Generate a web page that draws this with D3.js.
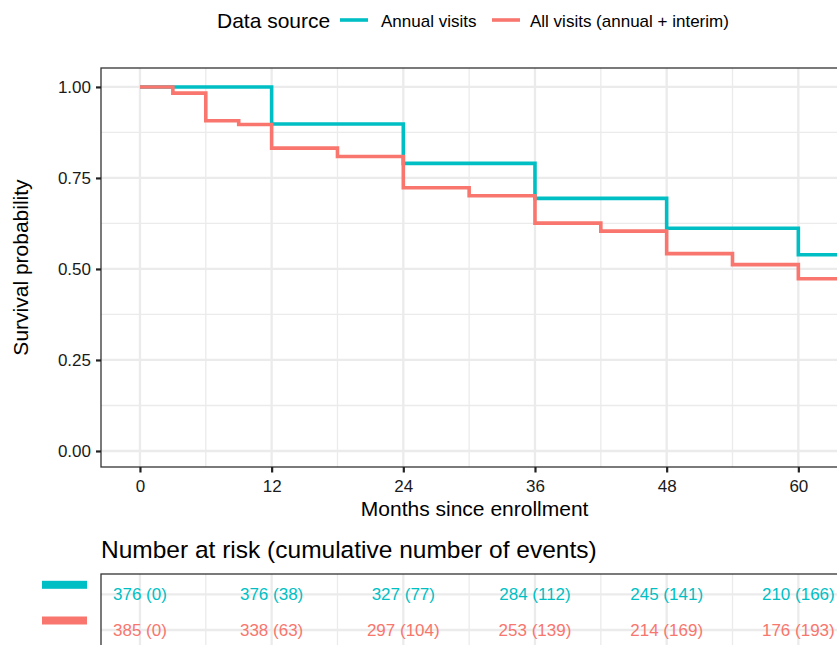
<!DOCTYPE html>
<html>
<head>
<meta charset="utf-8">
<script src="https://cdn.jsdelivr.net/npm/d3@7"></script>
<style>
  html, body { margin: 0; padding: 0; background: #fff; }
  svg { display: block; font-family: "Liberation Sans", Arial, Helvetica, sans-serif; }
</style>
</head>
<body>
<svg id="chart" width="837" height="645"></svg>
<script>
// ---------------- data ----------------
const seriesNames = ["Annual visits", "All visits (annual + interim)"];
const seriesColors = ["#00BFC4", "#F8766D"];

const annualTimes = [0, 12, 24, 36, 48, 60];
const annualSurv  = [1.0, 0.898, 0.790, 0.694, 0.612, 0.539];

const allTimes = [0, 3, 6, 9, 12, 18, 24, 30, 36, 42, 48, 54, 60];
const allSurv  = [1.0, 0.983, 0.907, 0.897, 0.832, 0.809, 0.723, 0.701, 0.626, 0.604, 0.542, 0.512, 0.473];

const followUpEnd = 70;

const xTicks = [0, 12, 24, 36, 48, 60, 72];
const xMinorTicks = [6, 18, 30, 42, 54, 66];
const yTicks = [0, 0.25, 0.5, 0.75, 1.0];
const yMinorTicks = [0.125, 0.375, 0.625, 0.875];

const riskTimes = [0, 12, 24, 36, 48, 60];
const riskAnnual = [376, 376, 327, 284, 245, 210];
const eventsAnnual = [0, 38, 77, 112, 141, 166];
const riskAll = [385, 338, 297, 253, 214, 176];
const eventsAll = [0, 63, 104, 139, 169, 193];

// ---------------- layout ----------------
const svg = d3.select("#chart");
const P = { left: 101, top: 68, bottom: 467, right: 958 };
const T = { top: 574, bottom: 665 };

const x = d3.scaleLinear().domain([-3.55, 74.55]).range([P.left, P.right]);
const y = d3.scaleLinear().domain([-0.044, 1.052]).range([P.bottom, P.top]);

const gridMajor = "#EBEBEB";
const textCol = "#1a1a1a";
const small = 17, base = 21;

// ---------------- main panel ----------------
const main = svg.append("g");
main.append("rect").attr("x", P.left).attr("y", P.top)
  .attr("width", P.right - P.left).attr("height", P.bottom - P.top).attr("fill", "#fff");

main.append("g").selectAll("line").data(yMinorTicks).join("line")
  .attr("x1", P.left).attr("x2", P.right).attr("y1", d => y(d)).attr("y2", d => y(d))
  .attr("stroke", gridMajor).attr("stroke-width", 1.3);
main.append("g").selectAll("line").data(xMinorTicks).join("line")
  .attr("y1", P.top).attr("y2", P.bottom).attr("x1", d => x(d)).attr("x2", d => x(d))
  .attr("stroke", gridMajor).attr("stroke-width", 1.3);
main.append("g").selectAll("line").data(yTicks).join("line")
  .attr("x1", P.left).attr("x2", P.right).attr("y1", d => y(d)).attr("y2", d => y(d))
  .attr("stroke", gridMajor).attr("stroke-width", 2.3);
main.append("g").selectAll("line").data(xTicks).join("line")
  .attr("y1", P.top).attr("y2", P.bottom).attr("x1", d => x(d)).attr("x2", d => x(d))
  .attr("stroke", gridMajor).attr("stroke-width", 2.3);

// survival curves
const line = d3.line().x(d => x(d[0])).y(d => y(d[1])).curve(d3.curveStepAfter);
const curves = [
  { times: annualTimes, surv: annualSurv, color: seriesColors[0] },
  { times: allTimes, surv: allSurv, color: seriesColors[1] }
];
curves.forEach(c => {
  const pts = c.times.map((t, i) => [t, c.surv[i]]);
  pts.push([followUpEnd, c.surv[c.surv.length - 1]]);
  main.append("path").datum(pts).attr("d", line)
    .attr("fill", "none").attr("stroke", c.color).attr("stroke-width", 3.6);
});

main.append("rect").attr("x", P.left).attr("y", P.top)
  .attr("width", P.right - P.left).attr("height", P.bottom - P.top)
  .attr("fill", "none").attr("stroke", "#333").attr("stroke-width", 1.3);

// axes
const xAxis = d3.axisBottom(x).tickValues(xTicks.filter(d => d <= 60)).tickSize(5.5).tickPadding(7.5);
const gx = svg.append("g").attr("transform", `translate(0,${P.bottom})`).call(xAxis);
gx.select(".domain").remove();
gx.selectAll(".tick line").attr("stroke", "#222").attr("stroke-width", 2.2);
gx.selectAll(".tick text").attr("fill", textCol).attr("font-size", small)
  .attr("font-family", "Liberation Sans, Arial, sans-serif");

const yAxis = d3.axisLeft(y).tickValues(yTicks).tickFormat(d3.format(".2f")).tickSize(5).tickPadding(5);
const gy = svg.append("g").attr("transform", `translate(${P.left},0)`).call(yAxis);
gy.select(".domain").remove();
gy.selectAll(".tick line").attr("stroke", "#222").attr("stroke-width", 2.2);
gy.selectAll(".tick text").attr("fill", textCol).attr("font-size", small)
  .attr("font-family", "Liberation Sans, Arial, sans-serif");

svg.append("text").attr("x", x(30.5)).attr("y", 516).attr("text-anchor", "middle")
  .attr("font-size", base).attr("fill", "#000").text("Months since enrollment");
svg.append("text").attr("transform", `translate(28,${(P.top + P.bottom) / 2}) rotate(-90)`)
  .attr("text-anchor", "middle").attr("font-size", base).attr("fill", "#000").text("Survival probability");

// legend
const leg = svg.append("g");
leg.append("text").attr("x", 217).attr("y", 28).attr("font-size", base).attr("fill", "#000").text("Data source");
const legItems = [{ x: 340, tx: 381 }, { x: 492, tx: 530 }];
legItems.forEach((it, i) => {
  leg.append("line").attr("x1", it.x).attr("x2", it.x + 28).attr("y1", 20).attr("y2", 20)
    .attr("stroke", seriesColors[i]).attr("stroke-width", 3.6);
  leg.append("text").attr("x", it.tx).attr("y", 27).attr("font-size", small).attr("fill", "#000").text(seriesNames[i]);
});

// ---------------- risk table ----------------
svg.append("text").attr("x", 101).attr("y", 558).attr("font-size", 24.5).attr("fill", "#000")
  .text("Number at risk (cumulative number of events)");

const rowY = d3.scalePoint().domain(seriesNames).range([594.3, 630]);
const tab = svg.append("g");
tab.append("rect").attr("x", P.left).attr("y", T.top).attr("width", P.right - P.left)
  .attr("height", T.bottom - T.top).attr("fill", "#fff");
tab.append("g").selectAll("line").data(xMinorTicks).join("line")
  .attr("y1", T.top).attr("y2", T.bottom).attr("x1", d => x(d)).attr("x2", d => x(d))
  .attr("stroke", gridMajor).attr("stroke-width", 1.3);
tab.append("g").selectAll("line").data(xTicks).join("line")
  .attr("y1", T.top).attr("y2", T.bottom).attr("x1", d => x(d)).attr("x2", d => x(d))
  .attr("stroke", gridMajor).attr("stroke-width", 2.3);
tab.append("g").selectAll("line").data(seriesNames).join("line")
  .attr("x1", P.left).attr("x2", P.right).attr("y1", d => rowY(d)).attr("y2", d => rowY(d))
  .attr("stroke", gridMajor).attr("stroke-width", 2.3);
tab.append("rect").attr("x", P.left).attr("y", T.top).attr("width", P.right - P.left)
  .attr("height", T.bottom - T.top).attr("fill", "none").attr("stroke", "#333").attr("stroke-width", 1.3);

const rows = [
  { risk: riskAnnual, ev: eventsAnnual },
  { risk: riskAll, ev: eventsAll }
];
rows.forEach((r, i) => {
  tab.append("g").selectAll("text").data(riskTimes).join("text")
    .attr("x", d => x(d)).attr("y", rowY(seriesNames[i])).attr("dy", "0.35em")
    .attr("text-anchor", "middle").attr("font-size", small).attr("fill", seriesColors[i])
    .text((d, j) => `${r.risk[j]} (${r.ev[j]})`);
  tab.append("rect").attr("x", 42).attr("y", rowY(seriesNames[i]) - 13.5)
    .attr("width", 45).attr("height", 8).attr("fill", seriesColors[i]);
});
</script>
</body>
</html>
